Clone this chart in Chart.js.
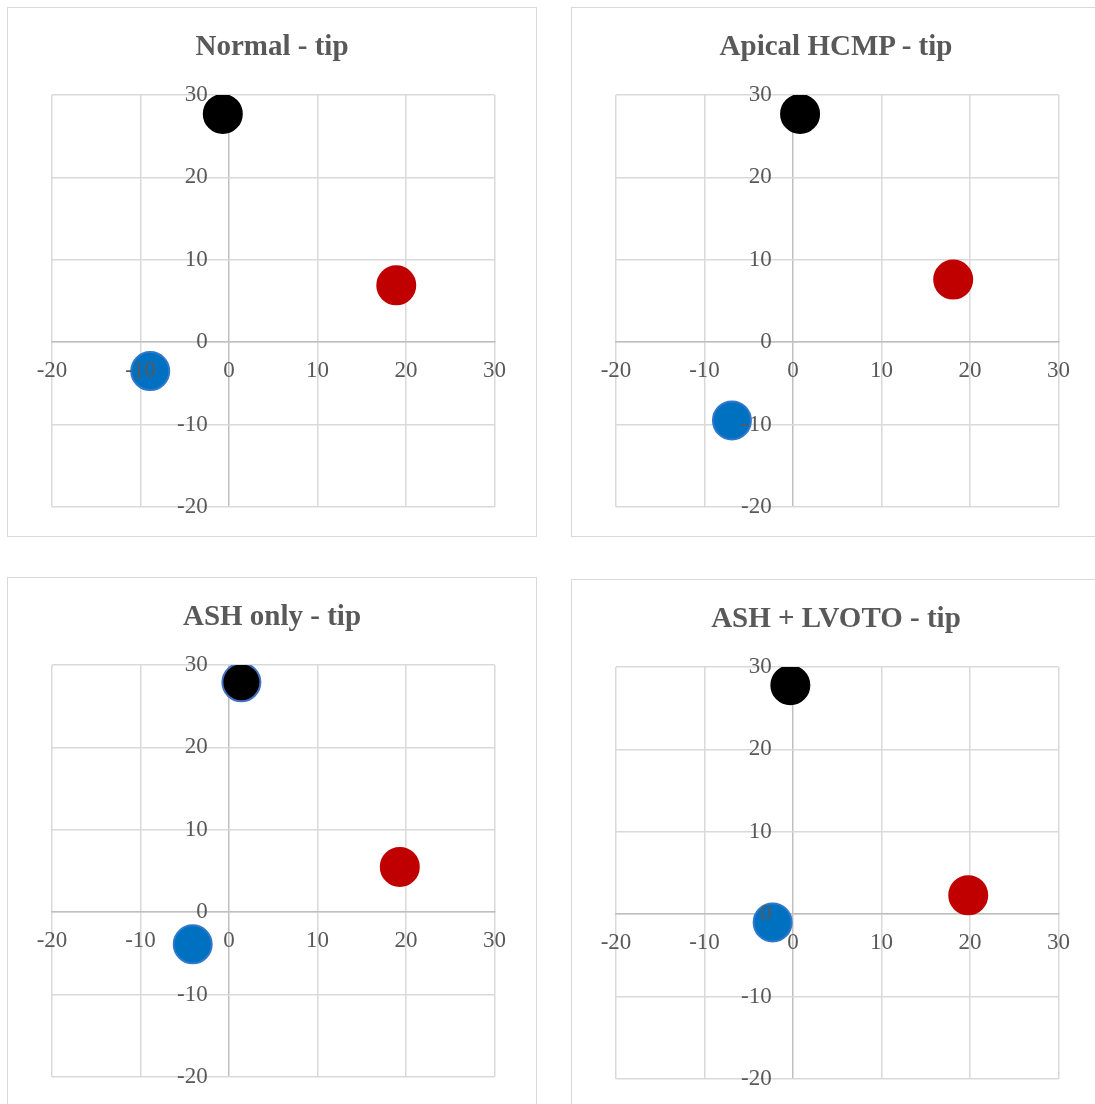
<!DOCTYPE html>
<html>
<head>
<meta charset="utf-8">
<script src="https://cdn.jsdelivr.net/npm/chart.js@4"></script>
<style>
    body { margin: 0; background: #ffffff; width: 1095px; height: 1104px; overflow: hidden; position: relative; }
    .box { position: absolute; width: 528px; height: 528px; border: 1px solid #d9d9d9; background: #fff; }
    .box canvas { position: absolute; left: 0; top: 0; }
    .title {
        position: absolute; left: 0; width: 100%; top: 23px; text-align: center;
        font: bold 29px "Liberation Serif", "Times New Roman", serif; line-height: 1;
        color: #595959; z-index: 2; white-space: pre;
    }
</style>
</head>
<body>
<script>
// Chart data
const titles = ['Normal - tip', 'Apical HCMP - tip', 'ASH only - tip', 'ASH + LVOTO - tip'];
const blackX = [-0.7, 0.8, 1.4, -0.3];
const blackY = [27.7, 27.7, 27.9, 27.8];
const redX = [18.9, 18.1, 19.3, 19.8];
const redY = [6.9, 7.6, 5.5, 2.3];
const blueX = [-8.9, -6.9, -4.1, -2.3];
const blueY = [-3.5, -9.5, -3.9, -1.0];
const xTicks = [-20, -10, 0, 10, 20, 30];
const yTicks = [-20, -10, 0, 10, 20, 30];

// Box placement on the page
const boxes = [
    { left: 7, top: 7 },
    { left: 571, top: 7 },
    { left: 7, top: 577 },
    { left: 571, top: 579 }
];
const blackBorders = ['#000000', '#000000', '#4472C4', '#000000'];

const labelFont = { family: '"Liberation Serif", "Times New Roman", serif', size: 23 };

// Build one chart
function makeChart(i) {
    const box = document.createElement('div');
    box.className = 'box';
    box.style.left = boxes[i].left + 'px';
    box.style.top = boxes[i].top + 'px';

    const title = document.createElement('div');
    title.className = 'title';
    title.textContent = titles[i];
    box.appendChild(title);

    const canvas = document.createElement('canvas');
    canvas.width = 528;
    canvas.height = 528;
    box.appendChild(canvas);
    document.body.appendChild(box);

    new Chart(canvas.getContext('2d'), {
        type: 'scatter',
        data: {
            datasets: [
                {
                    label: 'black',
                    data: [{ x: blackX[i], y: blackY[i] }],
                    backgroundColor: '#000000',
                    borderColor: blackBorders[i],
                    borderWidth: 2,
                    pointRadius: 19
                },
                {
                    label: 'red',
                    data: [{ x: redX[i], y: redY[i] }],
                    backgroundColor: '#C00000',
                    borderColor: '#C00000',
                    borderWidth: 2,
                    pointRadius: 19
                },
                {
                    label: 'blue',
                    data: [{ x: blueX[i], y: blueY[i] }],
                    backgroundColor: '#0070C0',
                    borderColor: '#2F78CC',
                    borderWidth: 2,
                    pointRadius: 19
                }
            ]
        },
        options: getChartOptions()
    });
}

// Chart Options
function getChartOptions() {
    return {
        responsive: false,
        animation: false,
        events: [],
        layout: { padding: { left: 44, right: 41.5, top: 87, bottom: 29 } },
        plugins: {
            legend: { display: false },
            tooltip: { enabled: false },
            title: { display: false }
        },
        scales: {
            x: {
                type: 'linear',
                position: { y: 0 },
                min: xTicks[0],
                max: xTicks[xTicks.length - 1],
                afterBuildTicks: (scale) => { scale.ticks = xTicks.map(v => ({ value: v })); },
                afterFit: (scale) => { scale.height = 0; },
                grid: {
                    color: (ctx) => ctx.tick && ctx.tick.value === 0 ? '#bfbfbf' : '#d9d9d9',
                    lineWidth: 1.5,
                    drawTicks: false
                },
                border: { color: '#bfbfbf', width: 1.5 },
                ticks: { z: 1, color: '#595959', font: labelFont, padding: 15 }
            },
            y: {
                type: 'linear',
                // labels sit a little left of the zero line, like the original
                position: { x: -2.4 },
                min: yTicks[0],
                max: yTicks[yTicks.length - 1],
                afterBuildTicks: (scale) => { scale.ticks = yTicks.map(v => ({ value: v })); },
                afterFit: (scale) => { scale.width = 0; },
                grid: { color: '#d9d9d9', lineWidth: 1.5, drawTicks: false },
                border: { display: false },
                ticks: { z: 1, color: '#595959', font: labelFont }
            }
        }
    };
}

titles.forEach((t, i) => makeChart(i));
</script>
</body>
</html>
